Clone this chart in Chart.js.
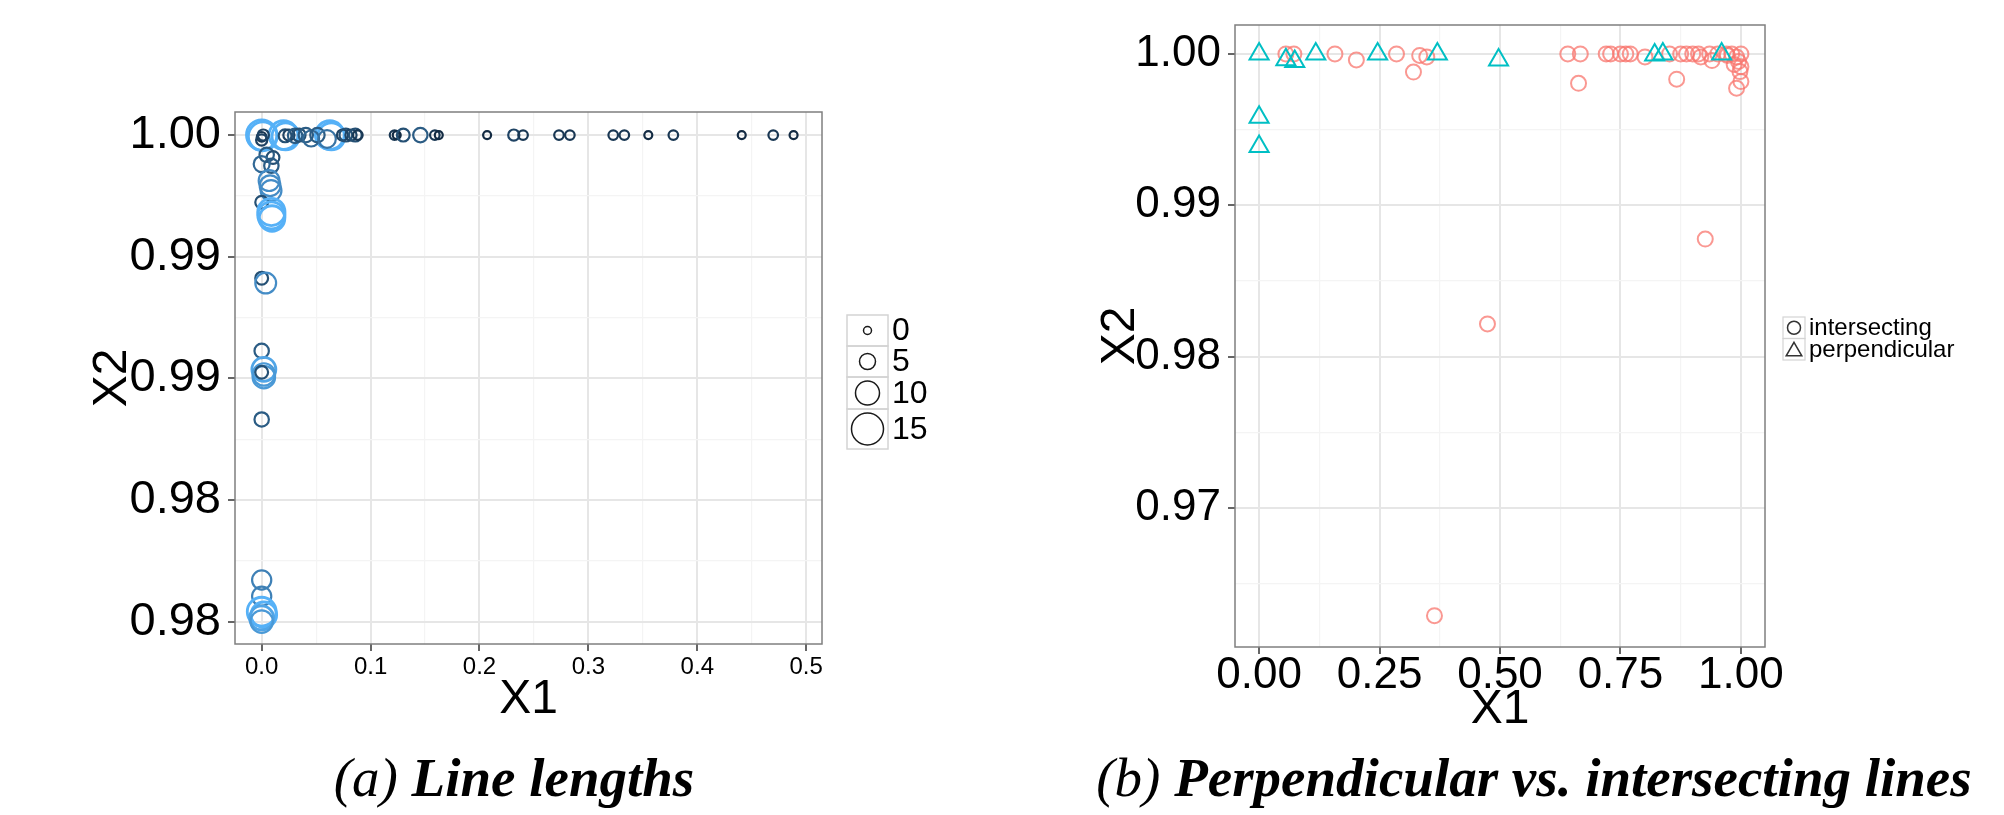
<!DOCTYPE html>
<html lang="en">
<head>
<meta charset="UTF-8">
<title>Line lengths / Perpendicular vs. intersecting lines</title>
<script src="https://cdn.jsdelivr.net/npm/chart.js@4.4.0/dist/chart.umd.min.js"></script>
<style>
  body { margin: 0; width: 2004px; height: 815px; background: #fff; position: relative; overflow: hidden; }
  canvas { position: absolute; top: 0; }
  .cap { position: absolute; top: 750px; width: 1000px; text-align: center; white-space: nowrap;
         font-family: "Liberation Serif", "Times New Roman", serif; font-style: italic; font-size: 55px; line-height: 55px; color: #000; }
  .cap b { font-weight: bold; }
</style>
</head>
<body>
<canvas id="chartA" width="1000" height="815" style="left:0"></canvas>
<canvas id="chartB" width="1004" height="815" style="left:1000px"></canvas>
<div class="cap" style="left:14px">(a) <b>Line lengths</b></div>
<div class="cap" style="left:1034px">(b) <b>Perpendicular vs. intersecting lines</b></div>
<script>
// ---- (a) line lengths ----
const aX = [0, 0.001, 0.020, 0.022, 0.0625, 0.064,
            0, 0.0015, 0, 0.0215, 0.025, 0.0307, 0.0344, 0.0405, 0.0454, 0.0512, 0.060, 0.0742, 0.0773, 0.082, 0.086, 0.0883,
            0.122, 0.124, 0.130, 0.1457, 0.159, 0.1626, 0.207, 0.2315, 0.240, 0.273, 0.283, 0.3228, 0.333, 0.355, 0.378, 0.4408, 0.4697, 0.4884,
            0.0046, 0.0104, 0, 0.0089, 0.0068, 0.0077, 0.0086, 0, 0.0089, 0.0089, 0.0095, 0, 0.0037, 0, 0.002, 0.002, 0.002, 0, 0,
            0, 0, 0, 0.002, 0, 0];
const aY = [1.0, 0.99995, 1.0, 0.99995, 1.0, 0.99995,
            0.99993, 1.0, 0.9998, 0.99997, 1.0, 0.99997, 1.0, 1.0, 0.99986, 1.0, 0.99984, 1.0, 1.0, 1.0, 1.0, 1.0,
            1.0, 1.0, 1.0, 1.0, 1.0, 1.0, 1.0, 1.0, 1.0, 1.0, 1.0, 1.0, 1.0, 1.0, 1.0, 1.0, 1.0, 1.0,
            0.99919, 0.99908, 0.99881, 0.99874, 0.99813, 0.99792, 0.99772, 0.99724, 0.99684, 0.99670, 0.99657, 0.99412, 0.99392, 0.99113, 0.99037, 0.99016, 0.99005, 0.99025, 0.98831,
            0.98171, 0.98104, 0.98041, 0.98028, 0.98015, 0.98000];
const aSize = [14, 13, 13, 12, 13, 12,
               1, 2, 2, 3, 2, 4, 3, 4, 5, 4, 6, 2, 3, 2, 3, 1,
               1, 0, 3, 4, 1, 0, 0, 2, 1, 1, 1, 1, 1, 0, 1, 0, 1, 0,
               4, 3, 5, 4, 8, 8, 8, 3, 12, 12, 11, 3, 8, 4, 10, 9, 9, 3, 4,
               7, 7, 13, 11, 10, 9];
const aLegendSizes = [0, 5, 10, 15];
const aXTicks = [0, 0.05, 0.1, 0.15, 0.2, 0.25, 0.3, 0.35, 0.4, 0.45, 0.5];
const aXLabels = ['0.0', '', '0.1', '', '0.2', '', '0.3', '', '0.4', '', '0.5'];
const aYTicks = [0.98, 0.9825, 0.985, 0.9875, 0.99, 0.9925, 0.995, 0.9975, 1.0];
const aYLabels = ['0.98', '', '0.98', '', '0.99', '', '0.99', '', '1.00'];

// ---- (b) perpendicular vs intersecting ----
const interX = [0.0556, 0.0722, 0.1574, 0.2019, 0.2852, 0.3204, 0.3333, 0.3481, 0.6407, 0.6667, 0.6630, 0.7204, 0.7296, 0.75, 0.7611, 0.7704,
                0.8009, 0.8519, 0.8667, 0.875, 0.887, 0.900, 0.912, 0.9167, 0.935, 0.940, 0.952, 0.970, 0.981, 0.991, 0.995, 1.0, 1.0,
                0.998, 0.991, 1.0, 0.986, 0.972, 0.926, 0.474, 0.364];
const interY = [1.0, 1.0, 1.0, 0.9996, 1.0, 0.9988, 0.9999, 0.9998, 1.0, 1.0, 0.99806, 1.0, 1.0, 1.0, 1.0, 1.0,
                0.9998, 1.0, 0.99833, 1.0, 1.0, 1.0, 1.0, 0.9998, 1.0, 0.99956, 1.0, 1.0, 1.0, 0.9998, 0.9995, 1.0, 0.99916,
                0.99883, 0.99773, 0.99817, 0.9993, 0.9999, 0.98777, 0.98216, 0.96289];
const perpX = [0, 0.0556, 0.074, 0.1176, 0.246, 0.370, 0.497, 0.821, 0.838, 0.960, 0, 0];
const perpY = [1.0, 0.99961, 0.9995, 1.0, 1.0, 1.0, 0.9996, 0.99993, 1.0, 1.0, 0.99582, 0.99388];
const bLegend = ['intersecting', 'perpendicular'];
const bXTicks = [0, 0.125, 0.25, 0.375, 0.5, 0.625, 0.75, 0.875, 1.0];
const bXLabels = ['0.00', '', '0.25', '', '0.50', '', '0.75', '', '1.00'];
const bYTicks = [0.965, 0.97, 0.975, 0.98, 0.985, 0.99, 0.995, 1.0];
const bYLabels = ['', '0.97', '', '0.98', '', '0.99', '', '1.00'];

const FONT = '"Liberation Sans", Arial, sans-serif';
const radius = s => 4 + 0.8 * s;
function shade(s) {
  const lo = [19, 43, 67], hi = [86, 177, 247];
  const t = Math.min(1, s / 11);
  return 'rgb(' + lo.map((c, i) => Math.round(c + (hi[i] - c) * t)).join(',') + ')';
}

function axis(ticks, labels, o) {
  return {
    type: 'linear', min: o.min, max: o.max,
    afterBuildTicks: s => { s.ticks = ticks.map(v => ({ value: v })); },
    afterFit: s => {
      if (o.width) s.width = o.width; else s.height = o.height;
      s.paddingTop = s.paddingBottom = s.paddingLeft = s.paddingRight = 0;
    },
    border: { display: false },
    grid: {
      color: c => labels[c.index] ? '#e6e6e6' : '#f4f4f4',
      lineWidth: c => labels[c.index] ? 2 : 1.2,
      tickColor: c => labels[c.index] ? '#333' : 'rgba(0,0,0,0)',
      tickLength: 7, tickWidth: 1.5
    },
    ticks: {
      autoSkip: false, maxRotation: 0, padding: o.pad, color: '#000',
      font: { family: FONT, size: o.size, lineHeight: 1 },
      callback: (v, i) => labels[i]
    },
    title: { display: true, text: o.title, color: '#000', font: { family: FONT, size: 48 }, padding: o.titlePad }
  };
}

const panelBorder = {
  id: 'panelBorder',
  afterDraw(chart) {
    const { ctx, chartArea: a } = chart;
    ctx.save();
    ctx.strokeStyle = '#7f7f7f';
    ctx.lineWidth = 1.5;
    ctx.strokeRect(a.left, a.top, a.right - a.left, a.bottom - a.top);
    ctx.restore();
  }
};

const sizeLegend = {
  id: 'sizeLegend',
  afterDraw(chart) {
    const ctx = chart.ctx;
    const x0 = 847, w = 41;
    let y = 315;
    ctx.save();
    ctx.font = '32px ' + FONT;
    ctx.textBaseline = 'middle';
    aLegendSizes.forEach(s => {
      const r = radius(s);
      const h = Math.max(31, 2 * r + 8);
      ctx.strokeStyle = '#d4d4d4'; ctx.lineWidth = 1.5;
      ctx.strokeRect(x0, y, w, h);
      ctx.beginPath(); ctx.arc(x0 + w / 2, y + h / 2, r, 0, 2 * Math.PI);
      ctx.strokeStyle = '#1a1a1a'; ctx.stroke();
      ctx.fillStyle = '#000';
      ctx.fillText(String(s), x0 + w + 4, y + h / 2 + 1);
      y += h;
    });
    ctx.restore();
  }
};

const shapeLegend = {
  id: 'shapeLegend',
  afterDraw(chart) {
    const ctx = chart.ctx;
    const x0 = 783, w = 22, h = 21.5;
    ctx.save();
    ctx.font = '24px ' + FONT;
    ctx.textBaseline = 'middle';
    bLegend.forEach((txt, i) => {
      const y = 317 + i * h, cx = x0 + w / 2, cy = y + h / 2;
      ctx.strokeStyle = '#d4d4d4'; ctx.lineWidth = 1.2;
      ctx.strokeRect(x0, y, w, h);
      ctx.strokeStyle = '#333'; ctx.lineWidth = 1.5;
      ctx.beginPath();
      if (i === 0) {
        ctx.arc(cx, cy, 6.5, 0, 2 * Math.PI);
      } else {
        const r = 9;
        ctx.moveTo(cx, cy + 2 - r);
        ctx.lineTo(cx + r * 0.866, cy + 2 + r / 2);
        ctx.lineTo(cx - r * 0.866, cy + 2 + r / 2);
        ctx.closePath();
      }
      ctx.stroke();
      ctx.fillStyle = '#000';
      ctx.fillText(txt, x0 + w + 4, cy + 1);
    });
    ctx.restore();
  }
};

const common = {
  responsive: false, animation: false, events: [],
  plugins: { legend: { display: false }, tooltip: { enabled: false } }
};

new Chart(document.getElementById('chartA'), {
  type: 'bubble',
  data: {
    datasets: [{
      data: aX.map((x, i) => ({ x: x, y: aY[i], r: radius(aSize[i]) })),
      borderColor: c => shade(aSize[c.dataIndex]),
      backgroundColor: 'rgba(0,0,0,0)',
      borderWidth: c => aSize[c.dataIndex] >= 10 ? 2.8 : 2.2
    }]
  },
  options: Object.assign({}, common, {
    layout: { padding: { left: 0, top: 112, right: 178, bottom: 71 } },
    scales: {
      x: axis(aXTicks, aXLabels, { min: -0.0245, max: 0.5145, height: 100, pad: 4, size: 24, title: 'X1', titlePad: { bottom: 15 } }),
      y: axis(aYTicks, aYLabels, { min: 0.97908, max: 1.00095, width: 235, pad: 7, size: 47, title: 'X2', titlePad: { top: 84 } })
    }
  }),
  plugins: [panelBorder, sizeLegend]
});

new Chart(document.getElementById('chartB'), {
  type: 'scatter',
  data: {
    datasets: [{
      label: 'perpendicular',
      order: 0,
      data: perpX.map((x, i) => ({ x: x, y: perpY[i] })),
      pointStyle: 'triangle', pointRadius: 11,
      borderColor: '#00BFC4', backgroundColor: 'rgba(0,0,0,0)', borderWidth: 2
    }, {
      label: 'intersecting',
      order: 1,
      data: interX.map((x, i) => ({ x: x, y: interY[i] })),
      pointStyle: 'circle', pointRadius: 7.5,
      borderColor: 'rgba(248,118,109,0.75)', backgroundColor: 'rgba(0,0,0,0)', borderWidth: 2
    }]
  },
  options: Object.assign({}, common, {
    layout: { padding: { left: 0, top: 25, right: 239, bottom: 68 } },
    scales: {
      x: axis(bXTicks, bXLabels, { min: -0.05, max: 1.05, height: 100, pad: 0, size: 44, title: 'X1', titlePad: { bottom: 8 } }),
      y: axis(bYTicks, bYLabels, { min: 0.96082, max: 1.00191, width: 235, pad: 7, size: 44, title: 'X2', titlePad: { top: 92 } })
    }
  }),
  plugins: [panelBorder, shapeLegend]
});
</script>
</body>
</html>
